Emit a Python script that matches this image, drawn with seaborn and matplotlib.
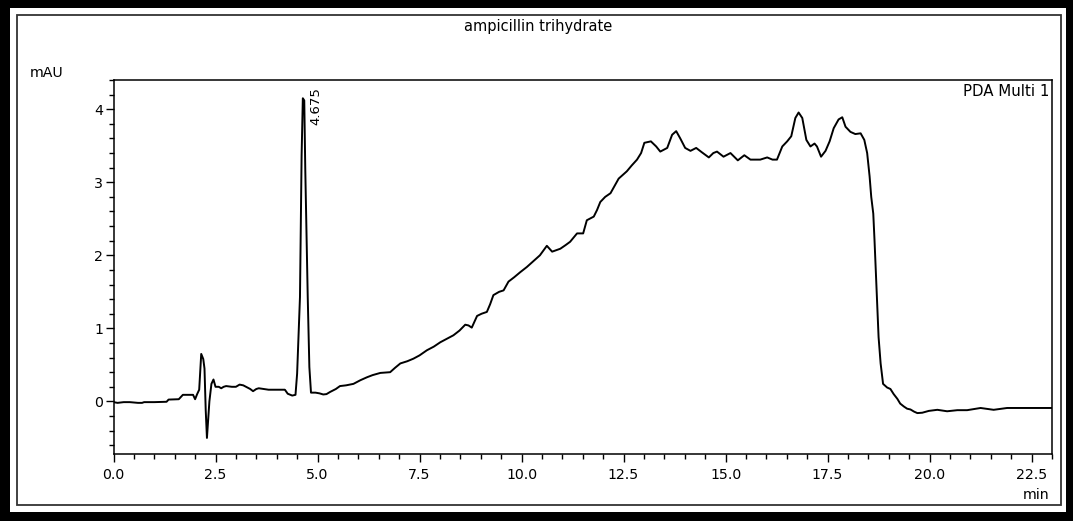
import numpy as np
import pandas as pd
import matplotlib
matplotlib.use("Agg")
import matplotlib.pyplot as plt
from matplotlib.ticker import MultipleLocator, FormatStrFormatter
from matplotlib.patches import Rectangle
import seaborn as sns

# ---- data ----
time_min = [
    0.00, 0.10, 0.25, 0.40, 0.60, 0.70, 0.75, 1.00, 1.30, 1.35, 1.60, 1.65, 1.70, 1.95, 2.00,
    2.05, 2.10, 2.15, 2.20, 2.23, 2.26, 2.29, 2.32, 2.35, 2.40, 2.45, 2.50, 2.58, 2.64, 2.70,
    2.76, 2.90, 3.00, 3.09, 3.18, 3.25, 3.35, 3.42, 3.50, 3.56, 3.80, 4.00, 4.20, 4.27, 4.38,
    4.46, 4.50, 4.57, 4.61, 4.64, 4.675, 4.70, 4.76, 4.80, 4.84, 4.95, 5.05, 5.14, 5.22, 5.31,
    5.45, 5.55, 5.70, 5.88, 6.05, 6.21, 6.35, 6.54, 6.78, 6.90, 7.03, 7.20, 7.35, 7.50, 7.68,
    7.85, 8.01, 8.18, 8.33, 8.48, 8.62, 8.70, 8.78, 8.91, 9.02, 9.15, 9.23, 9.31, 9.45, 9.56,
    9.68, 9.82, 9.97, 10.13, 10.29, 10.45, 10.62, 10.75, 10.95, 11.08, 11.19, 11.36, 11.51, 11.60, 11.77,
    11.85, 11.93, 12.05, 12.18, 12.28, 12.38, 12.58, 12.70, 12.83, 12.93, 13.01, 13.17, 13.30, 13.40, 13.57,
    13.69, 13.79, 13.89, 14.01, 14.14, 14.28, 14.42, 14.59, 14.70, 14.79, 14.95, 15.12, 15.30, 15.46, 15.61,
    15.85, 16.02, 16.15, 16.26, 16.39, 16.51, 16.61, 16.71, 16.79, 16.88, 16.98, 17.08, 17.18, 17.24, 17.34,
    17.45, 17.55, 17.65, 17.77, 17.86, 17.94, 18.06, 18.18, 18.31, 18.40, 18.47, 18.53, 18.57, 18.62, 18.65,
    18.68, 18.71, 18.75, 18.80, 18.86, 18.96, 19.04, 19.12, 19.21, 19.28, 19.37, 19.45, 19.53, 19.62, 19.70,
    19.82, 19.98, 20.19, 20.43, 20.68, 20.92, 21.25, 21.57, 21.90, 22.23, 22.64, 23.00,
]
absorbance_mau = [
    -0.01, -0.02, -0.01, -0.01, -0.02, -0.02, -0.01, -0.01, -0.005, 0.025, 0.03, 0.06, 0.09, 0.09, 0.03,
    0.10, 0.16, 0.65, 0.58, 0.45, -0.12, -0.50, -0.25, 0.00, 0.24, 0.30, 0.20, 0.20, 0.18, 0.20,
    0.21, 0.20, 0.20, 0.23, 0.22, 0.20, 0.17, 0.14, 0.17, 0.18, 0.16, 0.16, 0.16, 0.105, 0.08,
    0.09, 0.38, 1.43, 3.37, 4.15, 4.12, 3.17, 1.43, 0.47, 0.12, 0.12, 0.11, 0.095, 0.10, 0.13,
    0.17, 0.21, 0.22, 0.24, 0.29, 0.33, 0.36, 0.39, 0.40, 0.46, 0.52, 0.55, 0.585, 0.63, 0.70,
    0.75, 0.81, 0.86, 0.905, 0.97, 1.05, 1.04, 1.01, 1.17, 1.20, 1.225, 1.33, 1.455, 1.50, 1.52,
    1.64, 1.70, 1.77, 1.84, 1.92, 2.00, 2.13, 2.05, 2.09, 2.14, 2.185, 2.30, 2.30, 2.48, 2.53,
    2.62, 2.73, 2.80, 2.85, 2.95, 3.05, 3.15, 3.23, 3.31, 3.40, 3.54, 3.56, 3.49, 3.42, 3.47,
    3.65, 3.70, 3.60, 3.47, 3.43, 3.47, 3.41, 3.34, 3.40, 3.42, 3.35, 3.40, 3.30, 3.37, 3.31,
    3.31, 3.34, 3.31, 3.31, 3.49, 3.56, 3.63, 3.88, 3.955, 3.88, 3.58, 3.49, 3.53, 3.49, 3.35,
    3.43, 3.56, 3.74, 3.86, 3.89, 3.76, 3.69, 3.66, 3.67, 3.58, 3.40, 3.08, 2.80, 2.57, 2.21,
    1.80, 1.385, 0.88, 0.52, 0.24, 0.19, 0.17, 0.10, 0.035, -0.03, -0.07, -0.10, -0.11, -0.14, -0.16,
    -0.155, -0.13, -0.115, -0.135, -0.12, -0.12, -0.09, -0.115, -0.09, -0.09, -0.09, -0.09,
]
peak_time = 4.675
peak_label = "4.675"
x_ticks = [0.0, 2.5, 5.0, 7.5, 10.0, 12.5, 15.0, 17.5, 20.0, 22.5]
y_ticks = [0, 1, 2, 3, 4]

df = pd.DataFrame({"t": time_min, "v": absorbance_mau})

sns.set_style("white")
plt.rcParams["font.family"] = ["DejaVu Sans"]
plt.rcParams["text.color"] = "black"

W, H = 1073, 521
fig = plt.figure(figsize=(W / 100, H / 100), dpi=100)
ax = fig.add_axes([113.5 / W, 1 - 454 / H, (1052 - 113.5) / W, (454 - 80) / H])

sns.lineplot(data=df, x="t", y="v", ax=ax, color="black", linewidth=1.4,
             estimator=None, sort=False)

ax.set_xlim(0, 23.0)
ax.set_ylim(-0.72, 4.40)
ax.set_xticks(x_ticks)
ax.set_yticks(y_ticks)
ax.xaxis.set_major_formatter(FormatStrFormatter("%.1f"))
ax.xaxis.set_minor_locator(MultipleLocator(0.5))
ax.yaxis.set_minor_locator(MultipleLocator(0.2))
ax.tick_params(which="major", direction="out", length=6, width=1.0, color="black",
               labelsize=10.2, labelcolor="black")
ax.tick_params(axis="x", which="major", pad=4)
ax.tick_params(axis="y", which="major", pad=1.5)
ax.tick_params(which="minor", direction="out", length=3.5, width=1.0, color="black")
ax.tick_params(bottom=True, left=True, which="both")
ax.set_xlabel("")
ax.set_ylabel("")
for s in ax.spines.values():
    s.set_visible(True)
    s.set_color("black")
    s.set_linewidth(1.1)

# peak label
ax.annotate(peak_label, xy=(peak_time, 4.05), xytext=(4, 0), textcoords="offset points",
            rotation=90, ha="left", va="center", fontsize=9.5, color="black")
ax.text(0.997, 0.99, "PDA Multi 1", transform=ax.transAxes, ha="right", va="top",
        fontsize=10.8, color="black")

fig.text(538 / W, 1 - 27 / H, "ampicillin trihydrate", ha="center", va="center",
         fontsize=10.5, color="black")
fig.text(30 / W, 1 - 73 / H, "mAU", ha="left", va="center", fontsize=10.2, color="black")
fig.text(1050 / W, 1 - 495 / H, "min", ha="right", va="center", fontsize=10.2, color="black")

# thin inner border
fig.patches.append(Rectangle((16.5 / W, 1 - 505 / H), (1061 - 16.5) / W, (505 - 15) / H,
                             transform=fig.transFigure, fill=False, edgecolor="#333333",
                             linewidth=1.3, zorder=5))
# thick outer black frame
for (x0, y0, w, h) in [(0, 0, W, 9), (0, H - 8, W, 8), (0, 0, 10, H), (W - 7, 0, 7, H)]:
    fig.patches.append(Rectangle((x0 / W, y0 / H), w / W, h / H, transform=fig.transFigure,
                                 facecolor="black", edgecolor="none", zorder=6))

fig.savefig("out.png", dpi=100)
